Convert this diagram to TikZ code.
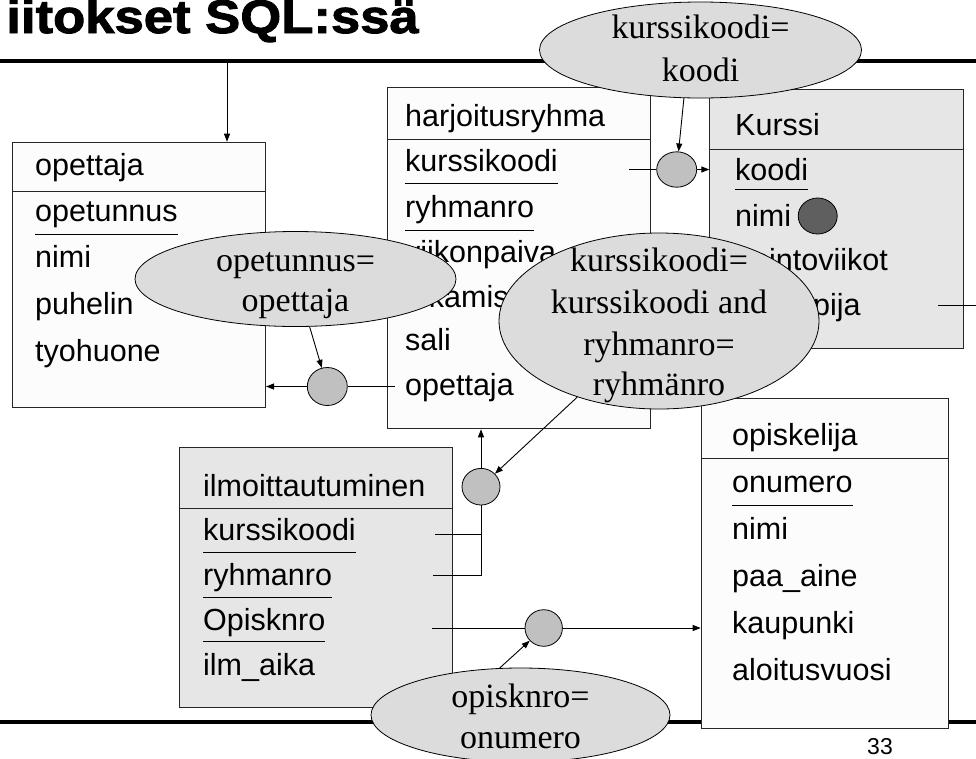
\documentclass[tikz,border=0pt]{standalone}
\usepackage{fontspec}
\setmainfont{Liberation Serif}
\setsansfont{Liberation Sans}
\newfontfamily\titlefont{Liberation Sans}[FakeStretch=1.12, BoldFeatures={FakeBold=2}]
\usetikzlibrary{shapes.geometric,arrows.meta}
\definecolor{boxwhite}{HTML}{FCFCFC}
\definecolor{boxgray}{HTML}{E6E6E6}
\definecolor{ellfill}{HTML}{DCDCDC}
\definecolor{joinfill}{HTML}{C0C0C0}
\definecolor{darkdot}{HTML}{5F5F5F}
\begin{document}
\begin{tikzpicture}[x=1pt,y=-1pt,
  box/.style={draw=black!85, line width=1pt, rectangle, inner sep=0, anchor=north west},
  fld/.style={font=\sffamily\fontsize{30.5}{36}\selectfont, inner sep=0, anchor=base west},
  lbl/.style={font=\fontsize{34}{40}\selectfont, inner sep=0, anchor=base},
  cond/.style={ellipse, draw=black, line width=0.8pt, fill=ellfill, inner sep=0},
  joinpt/.style={ellipse, draw=black, line width=0.8pt, fill=joinfill, inner sep=0},
  conn/.style={line width=0.9pt},
  arr/.style={conn, -{Triangle[length=8pt,width=6pt]}},
  sepline/.style={line width=1pt, black!85},
  ul/.style={line width=0.9pt}
]
\useasboundingbox (0,0) rectangle (976,758);

% slide title and rules
\node[anchor=base east, inner sep=0, font=\titlefont\bfseries\fontsize{47}{52}\selectfont] (title) at (419,33) {iitokset SQL:ssä};
\coordinate (rtl) at (0,61); \coordinate (rtr) at (976,61);
\draw[line width=4.5pt] (rtl) -- (rtr);
\coordinate (rbl) at (0,722); \coordinate (rbr) at (976,722);
\draw[line width=4.5pt] (rbl) -- (rbr);
\node[font=\sffamily\fontsize{23}{28}\selectfont, anchor=base, inner sep=0] (pg) at (880,754) {33};

% table: opettaja
\node[box, fill=boxwhite, minimum width=253.3pt, minimum height=265pt] (opettaja) at (11.7,141.7) {};
\draw[sepline] (opettaja.west |- 0,191) -- (opettaja.east |- 0,191);
\node[fld] (op0) at (35,175) {opettaja};
\node[fld] (op1) at (35,221) {opetunnus};
\node[fld] (op2) at (35,267) {nimi};
\node[fld] (op3) at (35,314) {puhelin};
\node[fld] (op4) at (35,361) {tyohuone};
\draw[ul] ([yshift=-13pt]op1.base west) -- ([yshift=-13pt]op1.base east);

% table: harjoitusryhma
\node[box, fill=boxwhite, minimum width=262.7pt, minimum height=341pt] (harj) at (387.3,87.3) {};
\draw[sepline] (harj.west |- 0,139) -- (harj.east |- 0,139);
\node[fld] (h0) at (405,126.7) {harjoitusryhma};
\node[fld] (h1) at (405,171.7) {kurssikoodi};
\node[fld] (h2) at (405,217.3) {ryhmanro};
\node[fld] (h3) at (405,262.7) {viikonpaiva};
\node[fld] (h4) at (405,307.7) {alkamisaika};
\node[fld] (h5) at (405,350.7) {sali};
\node[fld] (h6) at (405,395) {opettaja};
\draw[ul] ([yshift=-11.5pt]h1.base west) -- ([yshift=-11.5pt]h1.base east);
\draw[ul] ([yshift=-13pt]h2.base west) -- ([yshift=-13pt]h2.base east);

% table: Kurssi
\node[box, fill=boxgray, minimum width=253.4pt, minimum height=259pt] (kurssi) at (709.3,89.3) {};
\draw[sepline] (kurssi.west |- 0,149) -- (kurssi.east |- 0,149);
\node[fld] (k0) at (735,135) {Kurssi};
\node[fld] (k1) at (735,180) {koodi};
\node[fld] (k2) at (735,226.7) {nimi};
\node[fld] (k3) at (735,270) {opintoviikot};
\node[fld] (k4) at (813,315) {pija};
\draw[ul] ([yshift=-9pt]k1.base west) -- ([yshift=-9pt]k1.base east);
\node[ellipse, draw=black, line width=0.8pt, fill=darkdot, inner sep=0, minimum width=39pt, minimum height=36pt] (dot) at (817.7,216) {};

% table: ilmoittautuminen
\node[box, fill=boxgray, minimum width=272.4pt, minimum height=260pt] (ilm) at (179.3,446.7) {};
\draw[sepline] (ilm.west |- 0,508.3) -- (ilm.east |- 0,508.3);
\node[fld] (i0) at (203,496) {ilmoittautuminen};
\node[fld] (i1) at (203,540) {kurssikoodi};
\node[fld] (i2) at (203,585) {ryhmanro};
\node[fld] (i3) at (203,630) {Opisknro};
\node[fld] (i4) at (203,675) {ilm\_aika};
\draw[ul] ([yshift=-12pt]i1.base west) -- ([yshift=-12pt]i1.base east);
\draw[ul] ([yshift=-12.5pt]i2.base west) -- ([yshift=-12.5pt]i2.base east);
\draw[ul] ([yshift=-11pt]i3.base west) -- ([yshift=-11pt]i3.base east);

% table: opiskelija
\node[box, fill=boxwhite, minimum width=247.6pt, minimum height=330pt] (opisk) at (700.7,398.3) {};
\draw[sepline] (opisk.west |- 0,458.3) -- (opisk.east |- 0,458.3);
\node[fld] (s0) at (732,445) {opiskelija};
\node[fld] (s1) at (732,492.7) {onumero};
\node[fld] (s2) at (732,539.3) {nimi};
\node[fld] (s3) at (732,586.7) {paa\_aine};
\node[fld] (s4) at (732,633.3) {kaupunki};
\node[fld] (s5) at (732,680) {aloitusvuosi};
\draw[ul] ([yshift=-13pt]s1.base west) -- ([yshift=-13pt]s1.base east);

% join points
\node[joinpt, minimum width=40pt, minimum height=35.4pt] (c1) at (676.7,169.5) {};
\node[joinpt, minimum width=40pt, minimum height=38pt] (c2) at (327.3,386.5) {};
\node[joinpt, minimum width=38pt, minimum height=36.6pt] (c3) at (481,486.7) {};
\node[joinpt, minimum width=37.4pt, minimum height=36.6pt] (c4) at (543.7,628) {};

% join conditions
\node[cond, minimum width=322pt, minimum height=96pt] (kk) at (700.5,50) {};
\node[lbl] (kkt1) at (700.5,38.3) {kurssikoodi=};
\node[lbl] (kkt2) at (700.5,81.7) {koodi};

\node[cond, minimum width=321pt, minimum height=95pt] (opet) at (295.5,279) {};
\node[lbl] (opt1) at (295.5,271.7) {opetunnus=};
\node[lbl] (opt2) at (295.5,311.7) {opettaja};

\node[cond, minimum width=320pt, minimum height=176pt] (big) at (659,321) {};
\node[lbl] (bt1) at (659,271.7) {kurssikoodi=};
\node[lbl] (bt2) at (659,313.3) {kurssikoodi and};
\node[lbl] (bt3) at (659,355) {ryhmanro=};
\node[lbl] (bt4) at (659,395) {ryhmänro};

\node[cond, minimum width=299pt, minimum height=94pt] (onum) at (520.5,715) {};
\node[lbl] (ont1) at (520.5,707) {opisknro=};
\node[lbl] (ont2) at (520.5,748.3) {onumero};

% connectors
\coordinate (hk) at (629.3,169.5);
\draw[conn] (hk) -- (c1);
\draw[arr] (c1) -- (kurssi.west |- c1);
\draw[arr] (kk.251) -- (c1);

\coordinate (ho) at (395,386.5);
\draw[conn] (ho) -- (c2);
\draw[arr] (c2) -- (opettaja.east |- c2);
\draw[arr] (opet) -- (c2);

\coordinate (ik) at (435,534.3);
\coordinate (ir) at (433.3,575);
\draw[conn] (ik) -- (ik -| c3);
\draw[conn] (ir) -| (c3.south);
\draw[arr] (c3) -- (c3 |- harj.south);
\draw[arr] (big) -- (c3);

\coordinate (io) at (431.7,628);
\draw[conn] (io) -- (c4);
\draw[arr] (c4) -- (opisk.west |- c4);
\draw[arr] (onum.114) -- (c4);

\coordinate (kv) at (938.3,305);
\coordinate (kvr) at (976,305);
\draw[conn] (kv) -- (kvr);

\coordinate (tr) at (227,61);
\draw[arr] (tr) -- (tr |- opettaja.north);
\end{tikzpicture}
\end{document}
